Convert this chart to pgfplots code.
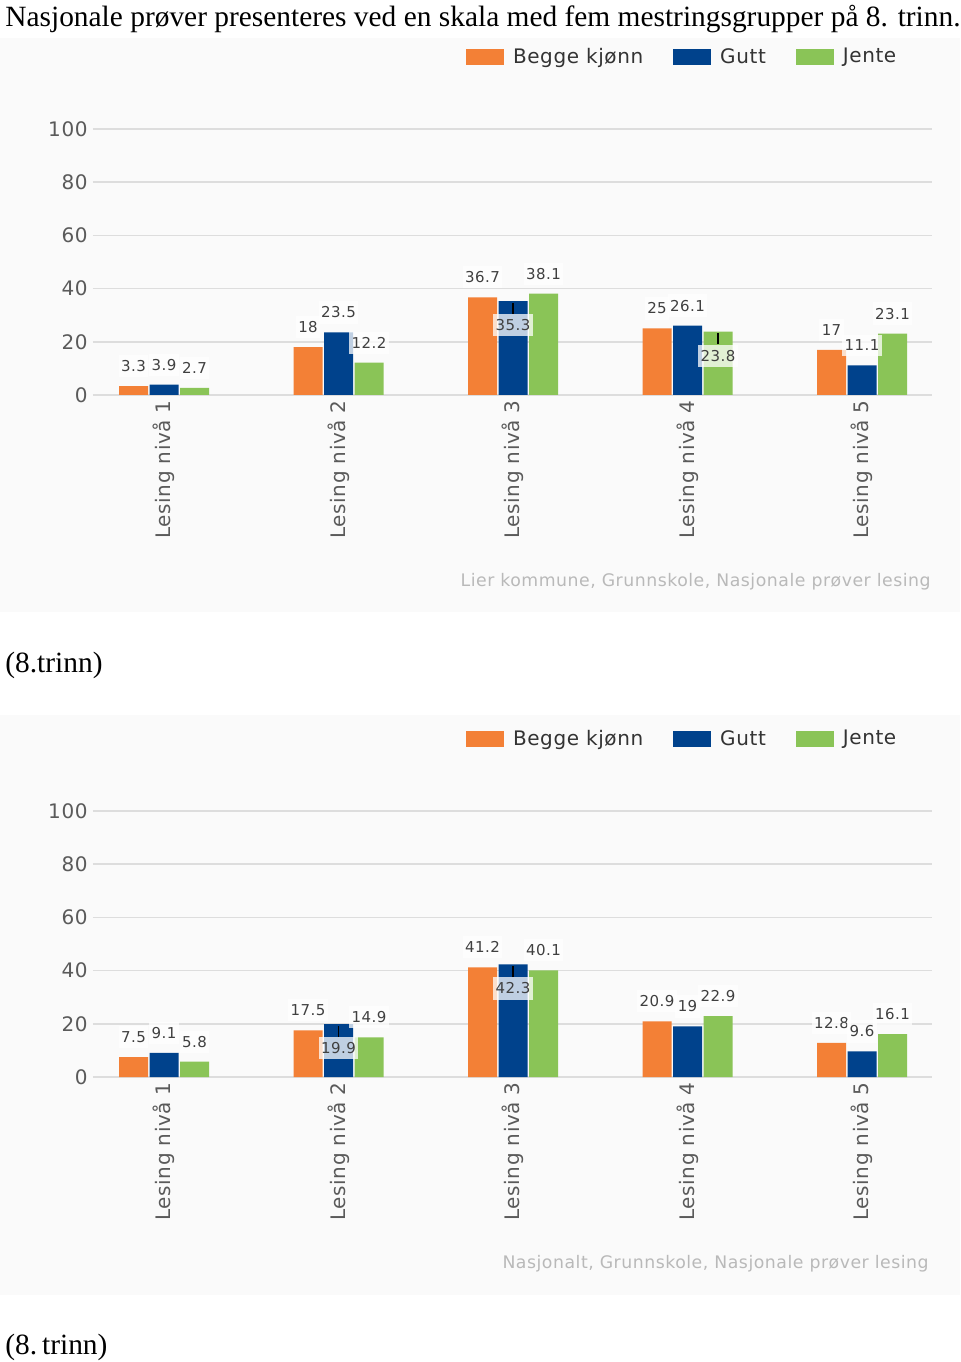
\documentclass[border=0pt]{standalone}
\usepackage{fontspec}
\setmainfont{Liberation Serif}
\newfontfamily\cf[LetterSpace=3]{DejaVu Sans}
\usepackage{pgfplots}
\usepackage{pgfplotstable}
\pgfplotsset{compat=1.18}

\definecolor{cOr}{RGB}{243,128,54}
\definecolor{cBl}{RGB}{0,66,140}
\definecolor{cGr}{RGB}{138,196,87}
\definecolor{cGrid}{RGB}{221,221,221}
\definecolor{cTick}{RGB}{90,90,90}
\definecolor{cLab}{RGB}{64,64,64}
\definecolor{cLeg}{RGB}{51,51,51}
\definecolor{cSrc}{RGB}{185,185,185}
\definecolor{cPanel}{RGB}{250,250,250}

% s-columns: vertical offset (pt) of the value label; negative = label moved inside the bar
% t-columns: 1 = draw the small leader line above a moved label
\pgfplotstableread{
x b sb tb g sg tg j sj tj
1 3.3 10 0 3.9 10 0 2.7 10 0
2 18 10 0 23.5 10 0 12.2 10 0
3 36.7 10 0 35.3 -12 1 38.1 10 0
4 25 10 0 26.1 10 0 23.8 -12 1
5 17 10 0 11.1 10 0 23.1 10 0
}\lier
\pgfplotstableread{
x b sb tb g sg tg j sj tj
1 7.5 10 0 9.1 10 0 5.8 10 0
2 17.5 10 0 19.9 -12 1 14.9 10 0
3 41.2 10 0 42.3 -12 1 40.1 10 0
4 20.9 10 0 19 10 0 22.9 10 0
5 12.8 10 0 9.6 10 0 16.1 10 0
}\nasj

\pgfplotsset{
  labs/.style 2 args={visualization depends on={\thisrow{#1} \as \ls},
                      visualization depends on={\thisrow{#2} \as \lt}},
  legimg/.style={legend image code/.code={\fill (0pt,-3.85pt) rectangle (19pt,4.15pt);}},
  mybars/.style={
    scale only axis, width=419.5pt, height=133pt,
    anchor=south west,
    xmin=0.593, xmax=5.401, ymin=0, ymax=100,
    ybar=0.75pt, bar width=14.5pt,
    axis line style={draw=none}, tick style={draw=none}, major tick length=0pt,
    ymajorgrids, grid style={cGrid, line width=0.8pt},
    ytick={0,20,40,60,80,100},
    xtick={1,2,3,4,5},
    xticklabels={Lesing nivå 1,Lesing nivå 2,Lesing nivå 3,Lesing nivå 4,Lesing nivå 5},
    /pgf/number format/assume math mode=true,
    yticklabel style={font=\cf\fontsize{10}{12}\selectfont, text=cTick, inner sep=0pt, xshift=-2.5pt},
    xticklabel style={font=\cf\fontsize{10}{12}\selectfont, text=cTick, inner sep=0pt, yshift=-2.5pt, rotate=90, anchor=east},
    nodes near coords,
    every node near coord/.append style={anchor=center, yshift=\ls, font=\cf\fontsize{7.5}{9}\selectfont, text=cLab, fill=white, fill opacity=0.75, text opacity=1, inner xsep=1.2pt, inner ysep=2.7pt,
      label={[anchor=south, inner sep=0pt, outer sep=0pt, fill=none, text=black, text opacity=\lt]north:\rule{0.6pt}{5.5pt}}},
    legend style={at={(0.4446,1.2703)}, anchor=west, draw=none, fill=none, inner sep=0pt, outer sep=0pt,
      font=\cf\fontsize{10}{12}\selectfont, text=cLeg, nodes={inner sep=0pt},
      /tikz/every odd column/.append style={column sep=4.5pt},
      /tikz/every even column/.append style={column sep=15pt}},
    legend columns=3,
    clip=false,
  }
}

\begin{document}
\begin{tikzpicture}
\useasboundingbox (0,0) rectangle (480pt,681pt);
\fill[cPanel] (0,375pt) rectangle (480pt,662pt);
\fill[cPanel] (0,33.5pt) rectangle (480pt,323.5pt);
\node[anchor=base west, inner sep=0pt, font=\fontsize{14.7}{17}\selectfont] at (2.5pt,667.5pt) {Nasjonale prøver presenteres ved en skala med fem mestringsgrupper på 8. trinn.};
\node[anchor=base west, inner sep=0pt, font=\fontsize{14.7}{17}\selectfont] at (2.5pt,344.5pt) {(8.trinn)};
\node[anchor=base west, inner sep=0pt, font=\fontsize{14.7}{17}\selectfont] at (2.5pt,3.5pt) {(8.\,trinn)};

\begin{axis}[mybars, at={(46.5pt,483.5pt)}]
\addplot[fill=cOr, draw=none, labs={sb}{tb}, legimg] table[x=x,y=b]{\lier};
\addplot[fill=cBl, draw=none, labs={sg}{tg}, legimg] table[x=x,y=g]{\lier};
\addplot[fill=cGr, draw=none, labs={sj}{tj}, legimg] table[x=x,y=j]{\lier};
\legend{Begge kjønn,Gutt,Jente}
\end{axis}
\node[anchor=east, inner sep=0pt, font=\cf\fontsize{8.65}{10}\selectfont, text=cSrc] at (465.5pt,390pt) {Lier kommune, Grunnskole, Nasjonale prøver lesing};

\begin{axis}[mybars, at={(46.5pt,142.5pt)}]
\addplot[fill=cOr, draw=none, labs={sb}{tb}, legimg] table[x=x,y=b]{\nasj};
\addplot[fill=cBl, draw=none, labs={sg}{tg}, legimg] table[x=x,y=g]{\nasj};
\addplot[fill=cGr, draw=none, labs={sj}{tj}, legimg] table[x=x,y=j]{\nasj};
\legend{Begge kjønn,Gutt,Jente}
\end{axis}
\node[anchor=east, inner sep=0pt, font=\cf\fontsize{8.65}{10}\selectfont, text=cSrc] at (464.5pt,49pt) {Nasjonalt, Grunnskole, Nasjonale prøver lesing};
\end{tikzpicture}
\end{document}
